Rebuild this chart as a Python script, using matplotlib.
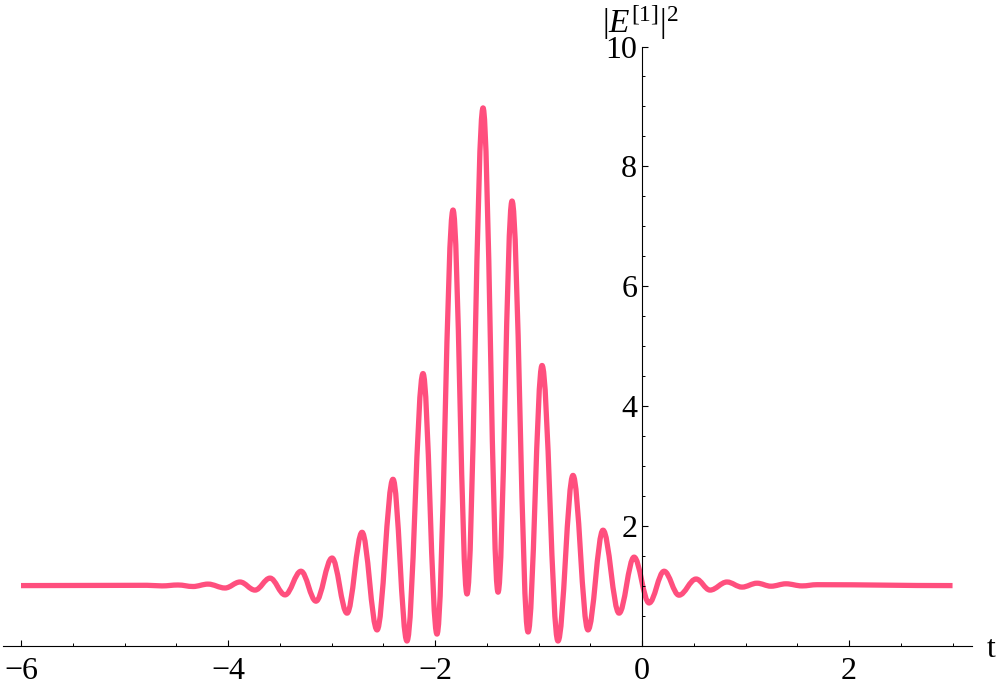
import matplotlib
matplotlib.use("Agg")
import matplotlib.pyplot as plt
from matplotlib.path import Path
from matplotlib.patches import PathPatch
from matplotlib.ticker import FixedLocator, MultipleLocator

# Extrema of |E^[1]|^2 (t, value)
t_ext = [-6.0, -4.783, -4.638, -4.483, -4.338, -4.193, -4.029, -3.884, -3.739,
         -3.594, -3.449, -3.295, -3.150, -2.995, -2.850, -2.705, -2.560, -2.406,
         -2.271, -2.116, -1.981, -1.826, -1.691, -1.536, -1.391, -1.256, -1.101,
         -0.966, -0.812, -0.667, -0.522, -0.377, -0.222, -0.077, 0.068, 0.213,
         0.357, 0.522, 0.657, 0.821, 0.966, 1.111, 1.246, 1.391, 1.546, 1.691, 3.0]
e_ext = [1.0, 1.005, 0.995, 1.01, 0.985, 1.025, 0.96, 1.06, 0.925,
         1.125, 0.845, 1.24, 0.74, 1.46, 0.54, 1.89, 0.26, 2.775,
         0.075, 4.54, 0.19, 7.27, 0.86, 8.975, 0.89, 7.42, 0.225,
         4.675, 0.075, 2.84, 0.26, 1.925, 0.54, 1.475, 0.71, 1.24,
         0.84, 1.11, 0.925, 1.06, 0.975, 1.04, 0.99, 1.03, 0.995, 1.015, 1.0]

x_major = [-6, -4, -2, 0, 2]
y_major = [2, 4, 6, 8, 10]

line_color = "#FF4F7E"

plt.rcParams['font.family'] = ['Liberation Serif', 'DejaVu Serif']
plt.rcParams['mathtext.fontset'] = 'custom'
plt.rcParams['mathtext.rm'] = 'Liberation Serif'
plt.rcParams['mathtext.it'] = 'Liberation Serif:italic'

fig = plt.figure(figsize=(10, 6.89), dpi=100)
ax = fig.add_axes([0.003, 43.5 / 689, 0.969, 599 / 689])
ax.set_xlim(-6.174, 3.188)
ax.set_ylim(0, 10)

# smooth curve through extrema (horizontal tangents at each extremum)
k = 0.3642
verts = [(t_ext[0], e_ext[0])]
codes = [Path.MOVETO]
for i in range(len(t_ext) - 1):
    dx = t_ext[i + 1] - t_ext[i]
    verts += [(t_ext[i] + k * dx, e_ext[i]),
              (t_ext[i + 1] - k * dx, e_ext[i + 1]),
              (t_ext[i + 1], e_ext[i + 1])]
    codes += [Path.CURVE4] * 3
patch = PathPatch(Path(verts, codes), facecolor='none', edgecolor=line_color,
                  lw=3.8, transform=ax.transData, clip_on=False,
                  joinstyle='round', capstyle='butt')
ax.add_patch(patch)

for s in ['top', 'right']:
    ax.spines[s].set_visible(False)
ax.spines['left'].set_position(('data', 0))
for s in ['left', 'bottom']:
    ax.spines[s].set_linewidth(0.8)

ax.xaxis.set_major_locator(FixedLocator(x_major))
ax.xaxis.set_minor_locator(MultipleLocator(0.5))
ax.yaxis.set_major_locator(FixedLocator(y_major))
ax.yaxis.set_minor_locator(MultipleLocator(0.5))

ax.tick_params(axis='both', which='major', direction='in', length=4.5, width=0.8,
               labelsize=23)
ax.tick_params(axis='both', which='minor', direction='in', length=2.5, width=0.7)
ax.tick_params(axis='x', which='major', pad=8.5)
ax.tick_params(axis='y', which='major', pad=3.5)

fig.text(0.987, 1 - 657 / 689, 't', ha='left', va='baseline', fontsize=23)
fig.text(0.602, 1 - 33 / 689, r'$|E^{[1]}|^2$', ha='left', va='baseline',
         fontsize=24)

fig.savefig('out.png', dpi=100)
